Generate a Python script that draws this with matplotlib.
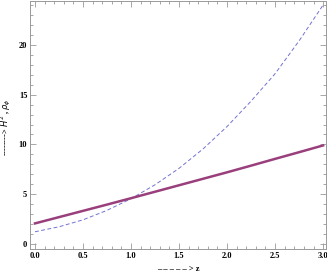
import matplotlib
matplotlib.use("Agg")
import matplotlib.pyplot as plt
from matplotlib.ticker import MultipleLocator, FormatStrFormatter

z = [0.0, 0.25, 0.5, 0.75, 1.0, 1.25, 1.5, 1.75, 2.0, 2.25, 2.5, 2.75, 3.0]
rho_phi = [2.07, 2.7, 3.33, 3.96, 4.6, 5.25, 5.9, 6.55, 7.2, 7.87, 8.55, 9.22, 9.9]
H2 = [1.23, 1.73, 2.43, 3.38, 4.55, 5.95, 7.6, 9.55, 11.8, 14.35, 17.1, 20.4, 24.0]

plt.rcParams['font.family'] = ['Liberation Serif', 'DejaVu Serif']

fig = plt.figure(figsize=(3.27, 2.73), dpi=100)
ax = fig.add_axes([30/327, 24/273, 296/327, 248/273])

ax.plot(z, H2, color='#7272d2', lw=0.7, ls=(0, (4, 2.5)))
ax.plot(z, rho_phi, color='#993f7c', lw=1.8)

ax.set_xlim(-0.052, 3.03)
ax.set_ylim(-0.5, 24.4)
ax.xaxis.set_major_locator(MultipleLocator(0.5))
ax.xaxis.set_minor_locator(MultipleLocator(0.1))
ax.yaxis.set_major_locator(MultipleLocator(5))
ax.yaxis.set_minor_locator(MultipleLocator(1))
ax.xaxis.set_major_formatter(FormatStrFormatter('%.1f'))

for s in ax.spines.values():
    s.set_color('#999999')
    s.set_linewidth(0.7)
ax.tick_params(which='both', direction='in', top=True, right=True, colors='#999999',
               labelcolor='black', labelsize=6, width=0.6)
ax.tick_params(which='major', length=4, pad=2)
ax.tick_params(which='minor', length=2)
for lab in ax.get_xticklabels() + ax.get_yticklabels():
    lab.set_fontweight('bold')

ax.set_xlabel('– – – – – > z', fontsize=6, fontweight='bold', labelpad=4)
fig.text(6/327, 1 - 127/273, r'--------> $H^2$ , $\rho_\phi$', rotation=90,
         fontsize=6, fontweight='bold', ha='center', va='center')

fig.savefig('out.png', dpi=100)
